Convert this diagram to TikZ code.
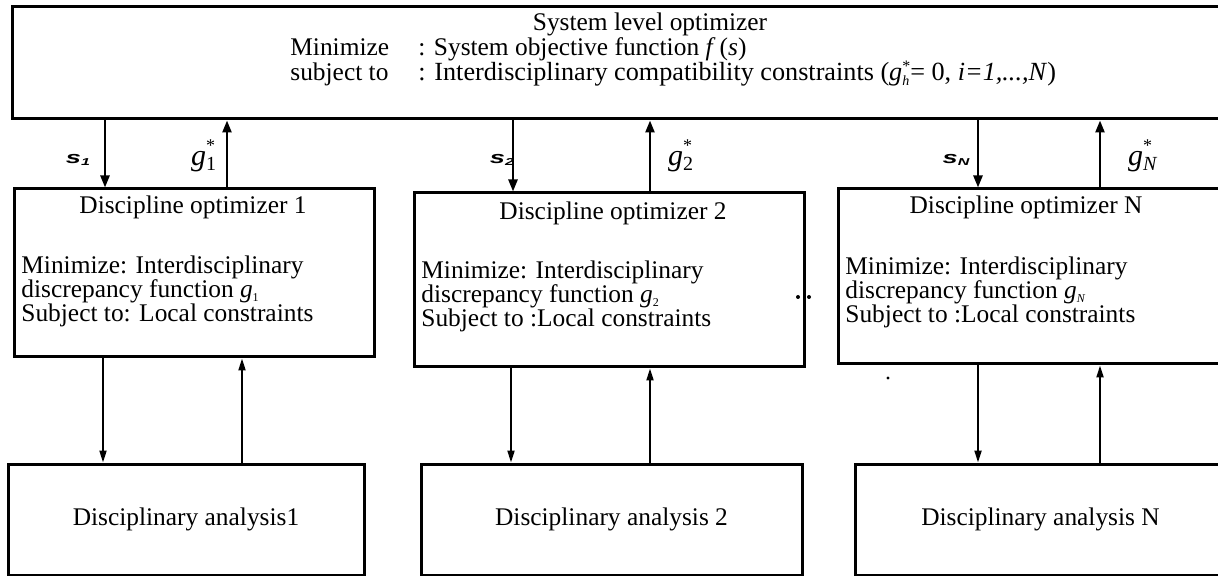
\documentclass[tikz,border=0pt]{standalone}
\usepackage{fontspec}
\usepackage{graphicx}
\setmainfont{Liberation Serif}
\newfontfamily\lblfont{Liberation Sans}
\usetikzlibrary{arrows.meta}

% g with a tiny subscript, and g with sub- and superscript
\newcommand{\gsub}[1]{\textit{g}\raisebox{-0.3ex}{\fontsize{6}{6}\selectfont #1}}
\newcommand{\gstar}[1]{{\fontsize{15}{15}\selectfont\textit{g}}\rlap{\raisebox{-2.5pt}{\fontsize{10}{10}\selectfont #1}}\raisebox{7pt}{\fontsize{9}{9}\selectfont *}}
\newcommand{\slbl}[1]{\scalebox{1.6}[1]{\lblfont\bfseries\itshape\fontsize{8.5}{8.5}\selectfont s\raisebox{-0.2ex}{\fontsize{5}{5}\selectfont #1}}}

\begin{document}
\begin{tikzpicture}[x=0.5pt, y=-0.5pt,
  box/.style={draw, line width=1.5pt, inner sep=0pt},
  txt/.style={inner sep=0pt, font=\fontsize{12.7}{12}\selectfont},
  arr/.style={line width=1.2pt, -{Triangle[length=6pt,width=4.5pt]}},
  thinarr/.style={line width=1pt, -{Triangle[length=6pt,width=3.5pt]}}]
\useasboundingbox (0,0) rectangle (1218,576);

% System level optimizer
\node[box, minimum width=607pt, minimum height=56pt] (sys) at (619,63) {};
\node[txt, anchor=base] (systitle) at (650,31) {System level optimizer};
\node[txt, anchor=base west] (minlbl) at (290,56) {Minimize};
\node[txt, anchor=base west] (minobj) at (418,56) {: System objective function \textit{f}\,(\textit{s})};
\node[txt, anchor=base west] (subjlbl) at (290,81) {subject to};
\node[txt, anchor=base west, font=\fontsize{13.1}{12}\selectfont] (subjcon) at (418,81) {: Interdisciplinary compatibility constraints (\textit{g}\rlap{\raisebox{-0.4ex}{\fontsize{7}{7}\selectfont\textit{h}}}\raisebox{0.8ex}{\fontsize{8}{8}\selectfont *}= 0, \textit{i=1,...,N})};

% Discipline optimizers
\node[box, minimum width=180pt, minimum height=84pt] (do1) at (194,273) {};
\node[txt, anchor=base] (do1title) at (193,214) {Discipline optimizer 1};
\node[txt, anchor=base west] (do1a) at (21,274) {Minimize: Interdisciplinary};
\node[txt, anchor=base west] (do1b) at (21,298) {discrepancy function \gsub{1}};
\node[txt, anchor=base west] (do1c) at (21,322) {Subject to: Local constraints};

\node[box, minimum width=195pt, minimum height=87pt] (do2) at (609,280) {};
\node[txt, anchor=base] (do2title) at (613,220) {Discipline optimizer 2};
\node[txt, anchor=base west] (do2a) at (421,279) {Minimize: Interdisciplinary};
\node[txt, anchor=base west] (do2b) at (421,303) {discrepancy function \gsub{2}};
\node[txt, anchor=base west] (do2c) at (421,327) {Subject to :Local constraints};

\node[box, minimum width=194pt, minimum height=87.5pt] (doN) at (1032,276.5) {};
\node[txt, anchor=base] (doNtitle) at (1026,214) {Discipline optimizer N};
\node[txt, anchor=base west] (doNa) at (845,275) {Minimize: Interdisciplinary};
\node[txt, anchor=base west] (doNb) at (845,299) {discrepancy function \gsub{\textit{N}}};
\node[txt, anchor=base west] (doNc) at (845,323) {Subject to :Local constraints};

% Disciplinary analyses
\node[box, txt, minimum width=178pt, minimum height=55.5pt] (da1) at (186,519.5) {Disciplinary analysis1};
\node[box, txt, minimum width=190.5pt, minimum height=55.5pt] (da2) at (611.5,519.5) {Disciplinary analysis 2};
\node[box, txt, minimum width=185.5pt, minimum height=55.5pt] (daN) at (1040.5,519.5) {Disciplinary analysis N};

% system <-> optimizers
\draw[arr] (sys.south -| 105,0) -- (do1.north -| 105,0);
\draw[arr] (do1.north -| 227,0) -- (sys.south -| 227,0);
\draw[arr] (sys.south -| 513,0) -- (do2.north -| 513,0);
\draw[arr] (do2.north -| 650,0) -- (sys.south -| 650,0);
\draw[arr] (sys.south -| 978,0) -- (doN.north -| 978,0);
\draw[arr] (doN.north -| 1100,0) -- (sys.south -| 1100,0);
\node[inner sep=0pt] (s1) at (78,160) {\slbl{1}};
\node[inner sep=0pt] (g1) at (203,156) {\gstar{1}};
\node[inner sep=0pt] (s2) at (502,160) {\slbl{2}};
\node[inner sep=0pt] (g2) at (680,156) {\gstar{2}};
\node[inner sep=0pt] (sN) at (956,160) {\slbl{N}};
\node[inner sep=0pt] (gN) at (1140,156) {\gstar{\textit{N}}};

% optimizers <-> analyses
\draw[thinarr] (do1.south -| 103,0) -- (da1.north -| 103,0);
\draw[thinarr] (da1.north -| 242,0) -- (do1.south -| 242,0);
\draw[thinarr] (do2.south -| 511,0) -- (da2.north -| 511,0);
\draw[thinarr] (da2.north -| 650,0) -- (do2.south -| 650,0);
\draw[thinarr] (doN.south -| 978,0) -- (daN.north -| 978,0);
\draw[thinarr] (daN.north -| 1100,0) -- (doN.south -| 1100,0);

% stray dots
\fill (798,297) circle (1pt);
\fill (809,297) circle (1pt);
\fill (888,378) circle (0.8pt);
\end{tikzpicture}
\end{document}
